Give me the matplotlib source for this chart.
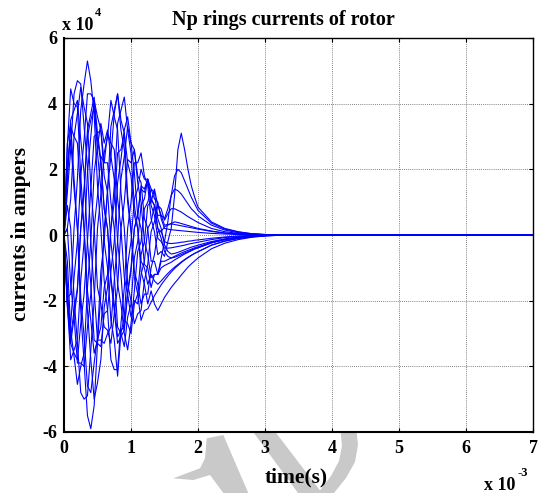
import matplotlib
matplotlib.use("Agg")
import matplotlib.pyplot as plt
from matplotlib.patches import Polygon

# ---------------- data (time in ms, currents in kA) ----------------
time_ms = [0.00, 0.05, 0.10, 0.15, 0.20, 0.25, 0.30, 0.35, 0.40, 0.45,
           0.50, 0.55, 0.60, 0.65, 0.70, 0.75, 0.80, 0.85, 0.90, 0.95,
           1.00, 1.05, 1.10, 1.15, 1.20, 1.25, 1.30, 1.35, 1.40, 1.45,
           1.50, 1.55, 1.60, 1.65, 1.70, 1.75, 1.80, 1.85, 1.90, 1.95,
           2.00, 2.2, 2.4, 2.6, 2.8, 3.0, 3.2, 7.0]

ring_01 = [0, -19, -18, 2, 17, 38, 46, 53, 47, 37, 15, 2, -14, -23, -38, -41, -41, -27, -16, 2,
           10, 22, 22, 25, 18, 15, 5, 1, -6, -5, -6.5,
           -2, 2, 12, 26, 31, 26, 20, 15, 11.5, 8.5,
           4, 2, 1, 0.4, 0.15, 0.05, 0]
ring_02 = [0, 28, 34, 17, 2, -23, -39, -55, -59, -52, -33, -18, 2, 13, 33, 38, 43, 35, 31, 12,
           2, -13, -18, -26, -23, -22.5, -20.5, -18.5, -16.8, -15.2, -13.8,
           -12.5, -11.3, -10.2, -9.3, -8.4, -7.6, -6.9, -6.2, -5.6, -5.1,
           -3.1, -1.9, -1.1, -0.55, -0.25, -0.1, 0]
ring_03 = [0, 13, 26, 43, 47, 46, 33, 21, -2, -17, -32, -32, -33, -30, -28, -14, -2, 17, 24, 33,
           28, 26, 16, 10, -2, -6, -13, -12, -12, -7, -2,
           4, 12, 18, 20, 19, 16.5, 14, 11.5, 9.5, 7.5,
           3.6, 1.8, 0.9, 0.4, 0.15, 0.05, 0]
ring_04 = [0, 27, 44.5, 40, 39, 18, 2, -23, -38, -50, -45, -38, -22, -16, 2, 15, 34, 38, 42, 32,
           25, 9, 2, -11, -15, -21, -17, -21, -23, -21, -19,
           -17.5, -16, -14.7, -13.5, -12.2, -11, -9.8, -8.8, -7.9, -7,
           -4.2, -2.5, -1.4, -0.7, -0.3, -0.1, 0]
ring_05 = [0, 9, 2, -19, -33, -48, -50, -49, -35, -20, 2, 12, 25, 30, 41, 36, 32, 13, 2, -15,
           -20, -27, -24, -23, -14, -9, 1, 4, 9, 6, 5,
           8, 12, 14, 13.5, 12.5, 11, 9.5, 8, 7, 5.8,
           3, 1.5, 0.7, 0.3, 0.1, 0.05, 0]
ring_06 = [0, -8, -29, -37, -45.5, -40, -36, -16, -2, 19, 27, 34, 28, 32, 24, 17, -2, -12, -26, -27,
           -30, -21, -18, -6, -2, 9, 10, 14, 9, 8, 4.5,
           6.5, 8, 8, 7.5, 7, 6.3, 5.6, 5, 4.4, 3.8,
           2, 1, 0.5, 0.2, 0.1, 0, 0]
ring_07 = [0, 22, 29, 14, 2, -19, -31, -46, -48, -39, -31, -11, -2, 14, 24, 37, 43, 32, 26, 10,
           1, -11, -15, -21, -18, -18, -10, -6, 1, 1, 2.5,
           3, 3.5, 4, 3.8, 3.5, 3.2, 2.9, 2.6, 2.3, 2,
           1.2, 0.6, 0.3, 0.1, 0.05, 0, 0]
ring_08 = [0, -21, -27, -13, -2, 18, 29, 43, 43, 41, 25, 14, -2, -10, -26, -32, -43, -30, -25, -9,
           -2, 11, 14, 20, 17, 17, 9, 6, -1, -2, -4,
           -4, -3.9, -3.7, -3.5, -3.3, -3.1, -2.8, -2.6, -2.4, -2.2,
           -1.4, -0.8, -0.45, -0.2, -0.08, -0.03, 0]
ring_09 = [0, 16, 35, 38, 41, 29, 19, -2, -15, -32, -33, -34, -24, -23, -11, -2, 16, 23, 32, 36,
           28, 19, 6, 2, -9, -10, -16, -12, -12, -10, -9.3,
           -8.8, -8.3, -7.6, -7, -6.4, -5.8, -5.3, -4.8, -4.3, -3.9,
           -2.4, -1.4, -0.8, -0.4, -0.15, -0.05, 0]
ring_10 = [0, -15, -33, -36, -38, -27, -18, -2, 14, 30, 31, 32, 22, 22, 10, 2, -15, -21, -30, -35,
           -27, -17, -5, -2, 8, 10, 14, 11, 10, 5, 2,
           1.8, 1.6, 1.5, 1.4, 1.3, 1.2, 1.1, 1, 0.9, 0.8,
           0.5, 0.3, 0.15, 0.07, 0.03, 0, 0]
ring_11 = [0, -22, -33, -25, -17, 2, 14, 32, 37, 42, 31, 23, 8, 2, -14, -23, -33, -31, -29, -18,
           -11, 2, 6, 15, 14, 17, 11, 9, 2, 1, -2,
           -2.5, -2.6, -2.5, -2.4, -2.2, -2.1, -1.9, -1.8, -1.6, -1.5,
           -1, -0.6, -0.3, -0.15, -0.06, 0, 0]
ring_12 = [0, -21, -38, -35, -32, -14, -2, 19, 30, 41, 36, 32, 18, 13, -2, -12, -28, -30, -34, -25,
           -21, -7, -2, 9, 11, 17, 14, 13, 5, 2, -3,
           -5, -5.8, -5.6, -5.3, -4.9, -4.5, -4.1, -3.7, -3.4, -3.1,
           -2, -1.2, -0.65, -0.3, -0.12, -0.04, 0]
ring_13 = [0, 19, 33, 30, 28, 12, 2, -17, -26, -36, -32, -28, -16, -12, 2, 10, 25, 26, 31, 22,
           18, 6, 2, -8, -10, -15, -12, -14, -15, -14, -12.8,
           -11.7, -10.7, -9.8, -9, -8.2, -7.5, -6.8, -6.2, -5.6, -5.1,
           -3.1, -1.8, -1, -0.5, -0.2, -0.07, 0]
ring_14 = [0, 2, -15, -25, -39, -39, -40, -28, -18, 2, 12, 24, 22, 31, 28, 26, 11, 2, -13, -18,
           -25, -20, -21, -12, -8, 2, 4, 9, 6, 6, 3,
           3.2, 3.4, 3.2, 3, 2.8, 2.6, 2.4, 2.2, 2, 1.8,
           1.1, 0.6, 0.3, 0.1, 0.05, 0, 0]
ring_15 = [0, 2, 11, 30, 37, 45, 39, 34, 15, 2, -16, -21, -28, -29, -33, -24, -16, 2, 10, 23,
           22, 26, 18, 16, 5, 2, -8, -8, -12, -8, -8,
           -7.5, -7, -6.5, -6, -5.5, -5.1, -4.7, -4.3, -3.9, -3.6,
           -2.2, -1.3, -0.75, -0.35, -0.14, -0.05, 0]
ring_16 = [0, -20, -31, -23, -16, 2, 13, 30, 35, 39, 29, 22, 8, 2, -13, -21, -31, -29, -28, -17,
           -10, 2, 6, 14, 13, 17, 11, 9, 2, -1, -5,
           -6.5, -7, -6.8, -6.4, -6, -5.5, -5.1, -4.6, -4.2, -3.9,
           -2.4, -1.4, -0.8, -0.4, -0.15, -0.05, 0]

rings = [ring_01, ring_02, ring_03, ring_04, ring_05, ring_06, ring_07, ring_08,
         ring_09, ring_10, ring_11, ring_12, ring_13, ring_14, ring_15, ring_16]

x_ticks = [0, 1, 2, 3, 4, 5, 6, 7]
x_tick_labels = ["0", "1", "2", "3", "4", "5", "6", "7"]
y_ticks = [-60, -40, -20, 0, 20, 40, 60]
y_tick_labels = ["-6", "-4", "-2", "0", "2", "4", "6"]

title_text = "Np rings currents of rotor"
x_label = "time(s)"
y_label = "currents in ampers"

# ---------------- figure ----------------
plt.rcParams["font.family"] = ["Liberation Serif", "DejaVu Serif"]
plt.rcParams["font.weight"] = "bold"
plt.rcParams["axes.unicode_minus"] = False

W, H = 542, 493
fig = plt.figure(figsize=(W / 100, H / 100), dpi=100)
fig.patch.set_facecolor("white")


def fp(x, y):
    return (x / W, 1 - y / H)


# faint watermark below the axes
wm = "#c9c9c9"
shapeA = [(206.7, 438.3), (223.3, 435), (248.3, 493), (223.3, 493), (210, 475),
          (193.3, 480), (173.3, 478.3), (200, 468.3), (205, 458.3)]
shapeB = [(248, 425), (270, 425), (322, 493), (298, 493)]
shapeC = [(340, 425), (356, 425), (358, 445), (355, 462), (346, 478), (334, 493),
          (318, 493), (331, 476), (339, 461), (342, 446)]
for shp in (shapeA, shapeB, shapeC):
    fig.add_artist(Polygon([fp(*p) for p in shp], closed=True, transform=fig.transFigure,
                           facecolor=wm, edgecolor="none", zorder=-5))

ax = fig.add_axes([64 / W, 1 - 432 / H, (533 - 64) / W, (432 - 38) / H])
ax.set_facecolor("white")
ax.set_zorder(1)

for curve in rings:
    ax.plot(time_ms, curve, color="#0000ff", lw=0.8)

ax.set_xlim(0, 7)
ax.set_ylim(-60, 60)
ax.set_xticks(x_ticks)
ax.set_xticklabels(x_tick_labels)
ax.set_yticks(y_ticks)
ax.set_yticklabels(y_tick_labels)
ax.tick_params(direction="in", top=True, right=True, length=3, width=0.8,
               labelsize=13, colors="black")
ax.tick_params(axis="x", pad=6)
ax.tick_params(axis="y", pad=5)
for lab in ax.get_xticklabels() + ax.get_yticklabels():
    lab.set_fontweight("bold")

ax.grid(True, linestyle=(0, (1, 1.5)), color="0.35", lw=0.6)
for side in ["left", "bottom"]:
    ax.spines[side].set_linewidth(1.5)
for side in ["top", "right"]:
    ax.spines[side].set_linewidth(1.0)

fig.text(*fp(283, 20), title_text, ha="center", va="center", fontsize=14.5, fontweight="bold")
fig.text(*fp(21, 234), y_label, rotation=90, ha="center", va="center", fontsize=15.5, fontweight="bold")
fig.text(*fp(296, 477), x_label, ha="center", va="center", fontsize=15.5, fontweight="bold")

fig.text(*fp(62, 30), "x 10", ha="left", va="baseline", fontsize=13, fontweight="bold")
fig.text(*fp(95, 16), "4", ha="left", va="baseline", fontsize=9, fontweight="bold")
fig.text(*fp(484, 490), "x 10", ha="left", va="baseline", fontsize=13, fontweight="bold")
fig.text(*fp(518, 476), "-3", ha="left", va="baseline", fontsize=9, fontweight="bold")

fig.savefig("out.png", dpi=100, facecolor="white")
